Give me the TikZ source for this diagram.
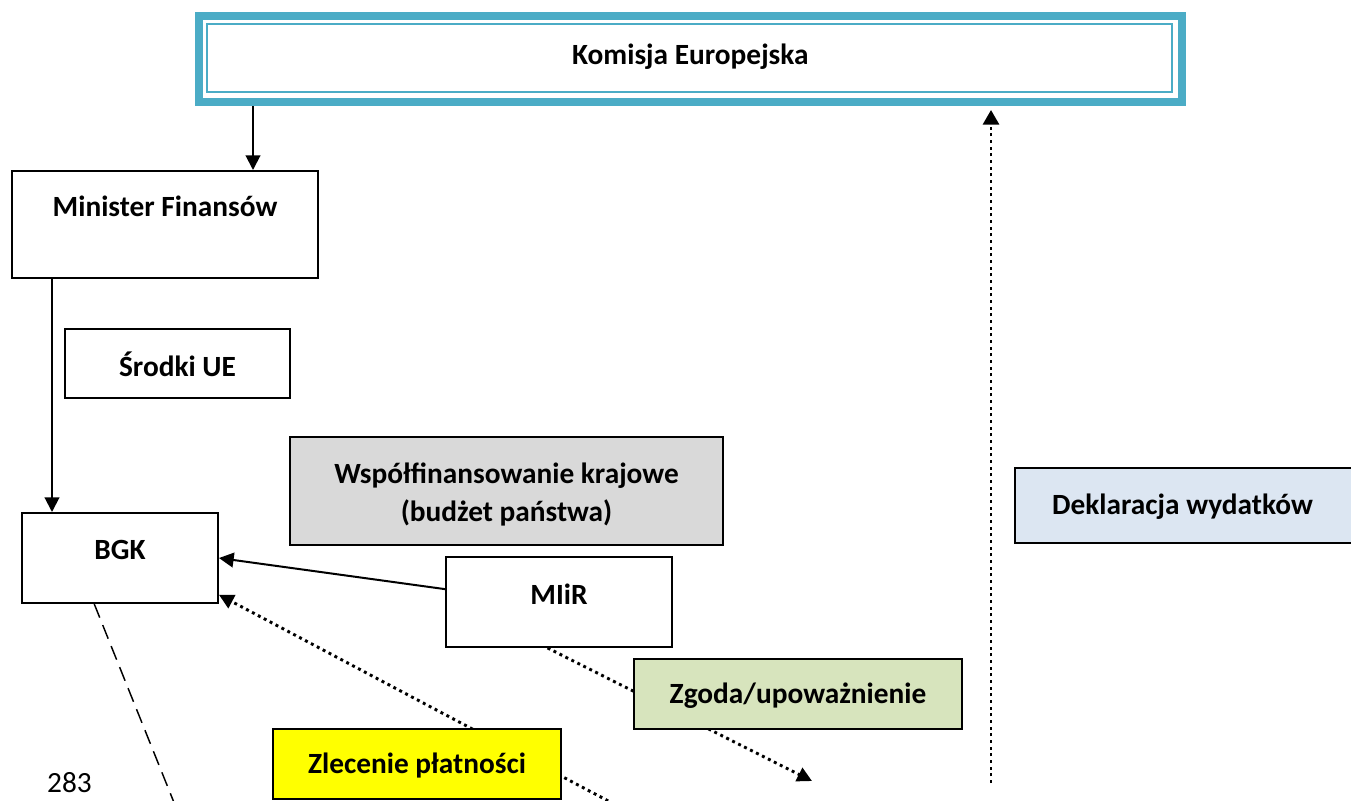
\documentclass[tikz,border=0pt]{standalone}
\usepackage{fontspec}
\setmainfont{Carlito}
\usetikzlibrary{arrows.meta,calc,backgrounds}
\definecolor{kteal}{HTML}{4BACC6}
\definecolor{kgray}{HTML}{D9D9D9}
\definecolor{kblue}{HTML}{DCE6F2}
\definecolor{kgreen}{HTML}{D7E4BD}
\definecolor{kyellow}{HTML}{FFFF00}
\newcommand{\liftby}[2]{\raisebox{#1}[\height][\depth]{#2}}
\tikzset{
  boxfont/.style={font=\fontsize{22pt}{28.5pt}\selectfont\bfseries},
  txt/.style={boxfont, inner sep=0pt, text height=17pt, text depth=3pt},
  boxnode/.style 2 args={draw=black, line width=1.5pt, fill=white, inner sep=0pt,
    minimum width=#1*0.75pt, minimum height=#2*0.75pt, txt},
  solidarrow/.style={line width=1.5pt, -{Triangle[length=11pt,width=11pt]}},
  dotline/.style={line width=2.2pt, dash pattern=on 2.2pt off 2.8pt},
  dotarrow/.style={dotline, -{Triangle[length=11pt,width=11pt]}},
  dashline/.style={line width=1.1pt, dash pattern=on 11pt off 6pt},
}
\begin{document}
\begin{tikzpicture}[x=0.75pt,y=-0.75pt]
\clip (0,0) rectangle (1351,800);
% Komisja Europejska (outer extent)
\node[txt, minimum width=990.7*0.75pt, minimum height=93.4*0.75pt]
  (ke) at (690.35,59) {\liftby{3pt}{Komisja Europejska}};
\draw[kteal, line width=6pt] ([shift={(4,4)}]ke.north west) rectangle ([shift={(-4,-4)}]ke.south east);
\draw[kteal, line width=1.7pt] ([shift={(12.3,12)}]ke.north west) rectangle ([shift={(-13.7,-13.7)}]ke.south east);

\node[boxnode={306}{107}] (mf) at (165,224.5) {\liftby{13pt}{Minister Finansów}};
\node[boxnode={225}{69}] (srodki) at (177.5,363.5) {\liftby{-2.5pt}{Środki UE}};
\node[draw=black, line width=1.5pt, fill=kgray, inner sep=0pt, boxfont, align=center,
  minimum width=433*0.75pt, minimum height=108*0.75pt] (wsp) at (506.5,491) {};
\node[boxfont, align=center, inner sep=0pt] at (506.5,494.5) {Współfinansowanie krajowe\\(budżet państwa)};
\node[boxnode={338}{75}, fill=kblue] (dekl) at (1184,505.5) {};
\node[txt] at (1182.5,505.5) {Deklaracja wydatków};
\node[boxnode={196}{90}] (bgk) at (120,558) {\liftby{6pt}{BGK}};
\node[boxnode={226}{90}] (miir) at (559,602) {\liftby{5pt}{MIiR}};
\node[boxnode={328}{70}, fill=kgreen] (zgoda) at (798,694) {Zgoda/upoważnienie};
\node[boxnode={288}{70}, fill=kyellow] (zlec) at (417,764) {Zlecenie płatności};
\node[inner sep=0pt, font=\fontsize{22pt}{28.5pt}\selectfont] (p283) at (69.5,783) {283};

\coordinate (cx1) at (253,0);
\coordinate (cx2) at (52,0);
\coordinate (z1) at (614,804);
\coordinate (z2) at (812,781);
\coordinate (z3) at (991,783);
\coordinate (z4) at (175,805);

\begin{scope}[on background layer]
\draw[solidarrow] (ke.south -| cx1) -- (mf.north -| cx1);
\draw[solidarrow] (mf.south -| cx2) -- (bgk.north -| cx2);
\draw[solidarrow] ($(miir.north west)!0.36!(miir.south west)$) -- (bgk.east);
\draw[dotarrow] (z1) -- ($(bgk.east)!0.8!(bgk.south east)$);
\draw[dotarrow] ($(miir.south west)!0.45!(miir.south east)$) -- (z2);
\draw[dotline, -{Triangle[length=11pt,width=12pt]}] (z3) -- ([yshift=-3pt]ke.south -| z3);
\draw[dashline] ($(bgk.south west)!0.37!(bgk.south east)$) -- (z4);
\end{scope}
\end{tikzpicture}
\end{document}
